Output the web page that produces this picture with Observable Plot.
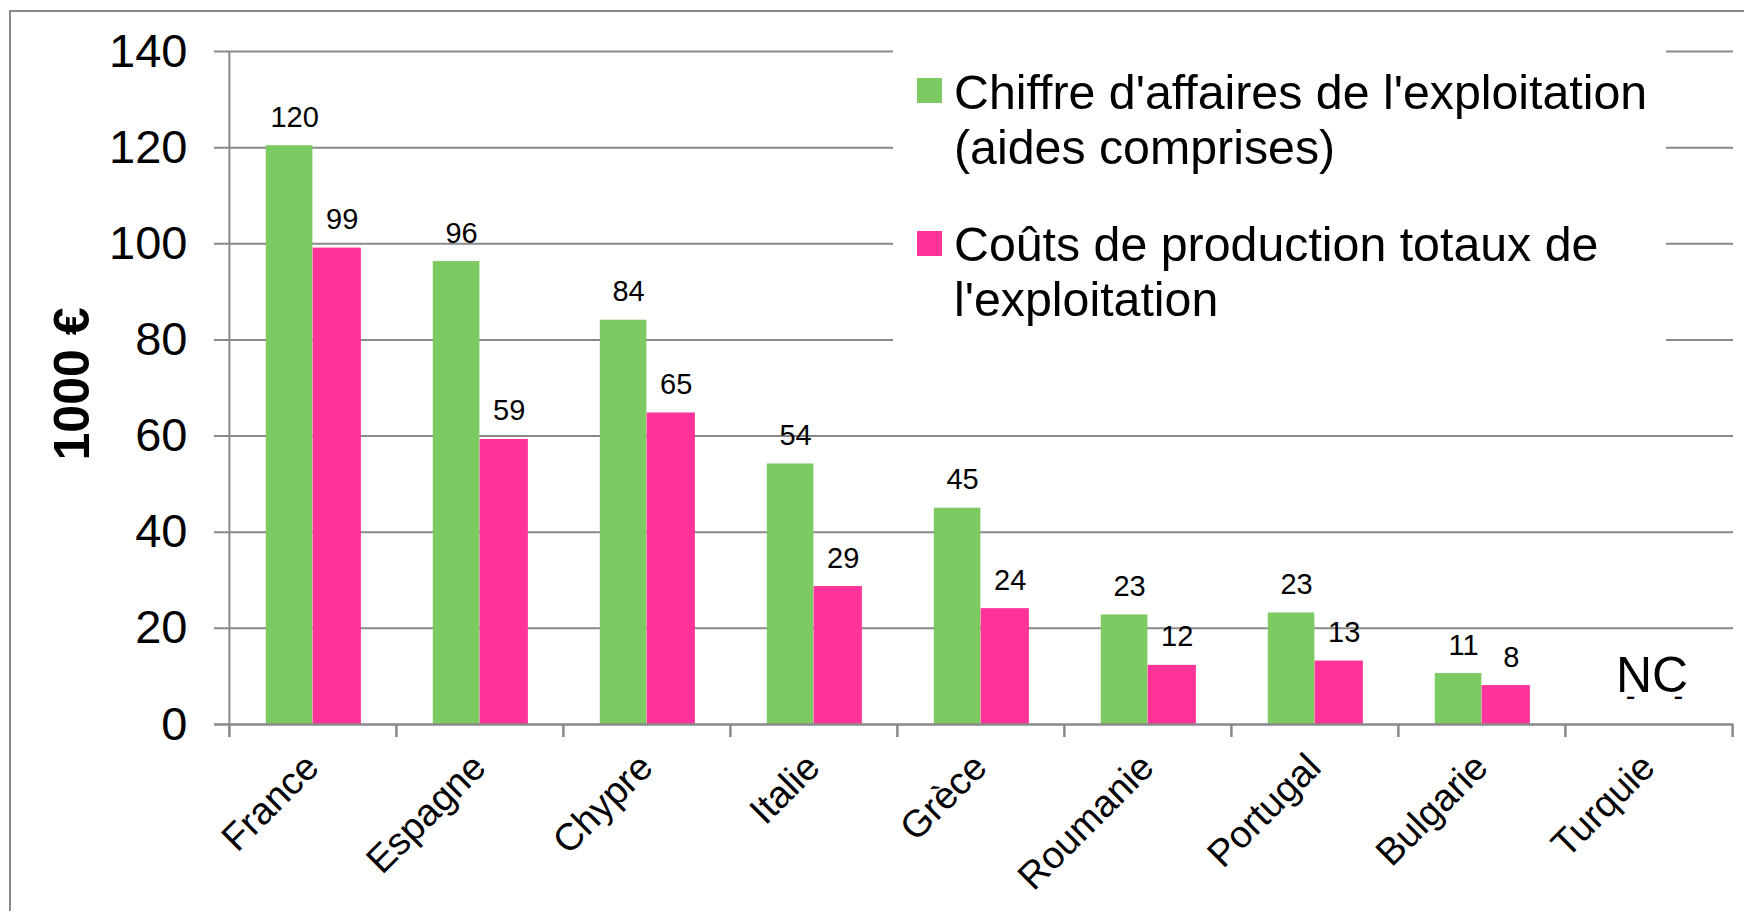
<!DOCTYPE html>
<html>
<head>
<meta charset="utf-8">
<script src="https://cdn.jsdelivr.net/npm/d3@7"></script>
<script src="https://cdn.jsdelivr.net/npm/@observablehq/plot@0.6"></script>
<style>
  html, body { margin: 0; padding: 0; background: #fff; overflow: hidden; }
  #wrap { position: relative; width: 1744px; height: 911px; overflow: hidden; font-family: "Liberation Sans", Arial, sans-serif; }
  #border { position: absolute; left: 9px; top: 10px; width: 1900px; height: 1100px; border-left: 2px solid #8a8a8a; border-top: 2px solid #8a8a8a; box-sizing: border-box; }
  #chart { position: absolute; left: 0; top: 0; }
  #legend { position: absolute; left: 893px; top: 40px; width: 773px; height: 310px; background: #fff; }
  .sw { position: absolute; left: 24px; width: 25px; height: 25px; }
  .txt { position: absolute; left: 61px; white-space: nowrap; font-size: 48.3px; line-height: 55px; color: #000; }
</style>
</head>
<body>
<div id="wrap">
  <div id="border"></div>
  <div id="chart"></div>
  <div id="legend"></div>
</div>
<script>
// ---- data ----
const countries = ["France", "Espagne", "Chypre", "Italie", "Grèce", "Roumanie", "Portugal", "Bulgarie", "Turquie"];
const chiffreAffaires = [120.4, 96.3, 84.1, 54.2, 45.0, 22.8, 23.2, 10.6, null];
const coutsProduction = [99.1, 59.3, 64.8, 28.7, 24.1, 12.3, 13.2, 8.1, null];
const yTicks = [0, 20, 40, 60, 80, 100, 120, 140];
const seriesNames = ["Chiffre d'affaires de l'exploitation (aides comprises)", "Coûts de production totaux de l'exploitation"];
const seriesLines = [["Chiffre d'affaires de l'exploitation", "(aides comprises)"], ["Coûts de production totaux de", "l'exploitation"]];
const yTitle = "1000 €";
const notes = [{country: "Turquie", note: "NC"}];

const green = "#7cca62";
const pink = "#ff3399";
const gridColor = "#898989";
const colors = [green, pink];

const rows = countries.map((c, i) => ({country: c, ca: chiffreAffaires[i], cp: coutsProduction[i]}));
const fmt = v => v == null ? "-" : String(Math.round(v));

const W = 1744, H = 911, mL = 228, mR = 11, mT = 51, mB = 187;
const bw = (W - mL - mR) / countries.length;

const chart = Plot.plot({
  width: W,
  height: H,
  marginLeft: mL,
  marginRight: mR,
  marginTop: mT,
  marginBottom: mB,
  style: {fontFamily: "'Liberation Sans', Arial, sans-serif", background: "transparent", overflow: "visible", color: "#000"},
  x: {domain: countries, padding: 0, axis: null},
  y: {domain: [0, 140], axis: null},
  marks: [
    Plot.ruleY(yTicks.filter(d => d !== 0), {y: d => d, stroke: gridColor, strokeWidth: 2, insetLeft: -14}),
    Plot.barY(rows, {x: "country", y: d => d.ca ?? 0, fill: colors[0], insetLeft: bw * 0.22, insetRight: bw * 0.5}),
    Plot.barY(rows, {x: "country", y: d => d.cp ?? 0, fill: colors[1], insetLeft: bw * 0.5, insetRight: bw * 0.21}),
    Plot.ruleY([0], {stroke: gridColor, strokeWidth: 2.5, insetLeft: -14}),
    Plot.ruleX([countries[0]], {x: d => d, y1: 0, y2: 140, dx: -bw / 2, stroke: gridColor, strokeWidth: 2}),
    Plot.ruleX(countries, {x: d => d, y1: 0, y2: 0, insetBottom: -13, dx: -bw / 2, stroke: gridColor, strokeWidth: 2.5}),
    Plot.ruleX([countries[countries.length - 1]], {x: d => d, y1: 0, y2: 0, insetBottom: -13, dx: bw / 2, stroke: gridColor, strokeWidth: 2.5}),
    Plot.text(yTicks, {y: d => d, frameAnchor: "left", textAnchor: "end", dx: -41, fontSize: 47, fill: "#000"}),
    Plot.text(rows, {x: "country", y: d => d.ca ?? 0, text: d => fmt(d.ca), dx: -bw * 0.14 + 5, dy: -19, lineAnchor: "bottom", fontSize: 29, fill: "#000"}),
    Plot.text(rows, {x: "country", y: d => d.cp ?? 0, text: d => fmt(d.cp), dx: bw * 0.145 + 5, dy: -19, lineAnchor: "bottom", fontSize: 29, fill: "#000"}),
    Plot.text(notes, {x: "country", y: () => 0, text: "note", dy: -33, dx: 3, lineAnchor: "bottom", fontSize: 50, fill: "#000"}),
    Plot.text(countries, {x: d => d, frameAnchor: "bottom", rotate: -45, textAnchor: "end", lineAnchor: "bottom", dx: 8, dy: 45, fontSize: 38, fill: "#000"}),
    Plot.text([yTitle], {frameAnchor: "left", textAnchor: "middle", rotate: -90, dx: -156, dy: -4, fontWeight: "bold", fontSize: 50, fill: "#000"})
  ]
});
document.getElementById("chart").appendChild(chart);

// legend (inside the plot area, white box over gridlines)
const legend = document.getElementById("legend");
const swTops = [38, 191];
const txtTops = [25, 177];
seriesLines.forEach((lines, i) => {
  const sw = document.createElement("div");
  sw.className = "sw";
  sw.style.top = swTops[i] + "px";
  sw.style.background = colors[i];
  legend.appendChild(sw);
  const t = document.createElement("div");
  t.className = "txt";
  t.style.top = txtTops[i] + "px";
  t.title = seriesNames[i];
  t.innerHTML = lines.map(l => l.replace(/&/g, "&amp;").replace(/</g, "&lt;")).join("<br>");
  legend.appendChild(t);
});
</script>
</body>
</html>
